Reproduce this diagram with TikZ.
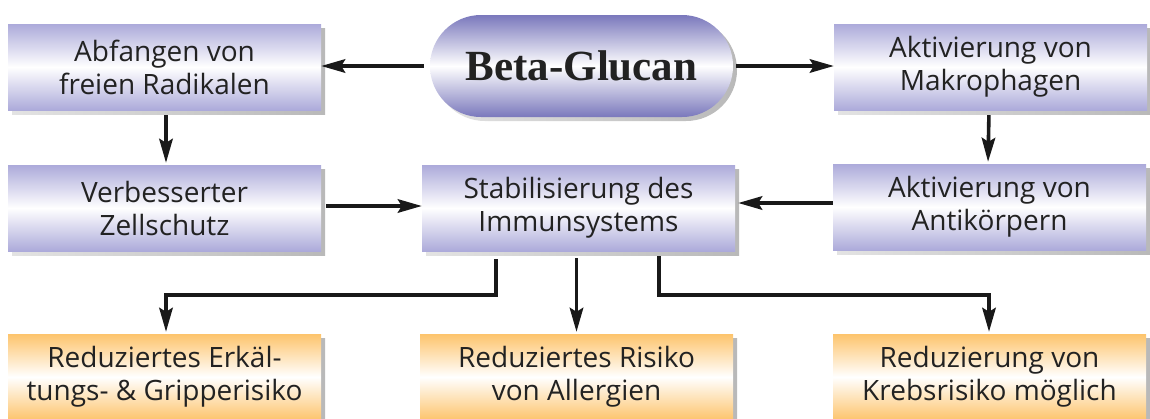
\documentclass[tikz,border=0pt]{standalone}
\usepackage{fontspec}
\setmainfont{Open Sans}
\newfontfamily\titlefont{Liberation Serif}
\usetikzlibrary{arrows.meta,shadows}
\definecolor{boxblue}{RGB}{172,170,218}
\definecolor{pillblue}{RGB}{122,120,188}
\definecolor{boxorange}{RGB}{253,196,108}
\definecolor{txt}{RGB}{34,34,34}
\definecolor{arrcol}{RGB}{25,25,25}
\tikzset{
  shadowed/.style={general shadow={shadow xshift=4pt, shadow yshift=-4pt, left color=gray!22, right color=gray!55}},
  bluebox/.style={shadowed, rectangle, minimum width=313pt, minimum height=86pt, inner sep=0pt,
    top color=boxblue, bottom color=boxblue, middle color=white, align=center,
    font=\fontsize{28}{33}\selectfont, text=txt},
  orangebox/.style={bluebox, top color=boxorange, bottom color=boxorange, middle color=white},
  pill/.style={shadowed, rectangle, rounded corners=51pt, minimum width=303pt, minimum height=102pt,
    inner sep=0pt, top color=pillblue, bottom color=pillblue, middle color=white,
    font=\titlefont\bfseries\fontsize{43}{50}\selectfont, text=txt},
  arr/.style={draw=arrcol, line width=3.6pt, -{Stealth[length=24pt,width=13.5pt,inset=4pt]}}
}
\begin{document}
\begin{tikzpicture}[x=1pt,y=-1pt]
\useasboundingbox (0,0) rectangle (1150,418);
\node[pill] (beta) at (581.5,66) {Beta-Glucan};
\node[bluebox] (abf) at (164.5,67) {Abfangen von\\freien Radikalen};
\node[bluebox] (mak) at (990.5,67) {Aktivierung von\\Makrophagen};
\node[bluebox] (verb) at (164.5,208) {Verbesserter\\Zellschutz};
\node[bluebox] (stab) at (578.5,208) {Stabilisierung des\\Immunsystems};
\node[bluebox] (anti) at (989.5,207) {Aktivierung von\\Antikörpern};
\node[orangebox] (o1) at (164.5,377) {Reduziertes Erkäl-\\tungs- \& Gripperisiko};
\node[orangebox] (o2) at (576.5,377) {Reduziertes Risiko\\von Allergien};
\node[orangebox] (o3) at (989.5,377) {Reduzierung von\\Krebsrisiko möglich};

\draw[arr, shorten <=6pt] (beta.west) -- (beta.west -| abf.east);
\draw[arr, shorten <=3pt] (beta.east) -- (beta.east -| mak.west);
\draw[arr, shorten <=5pt, shorten >=2pt] ([xshift=1.5pt]abf.south) -- ([xshift=1.5pt]verb.north);
\draw[arr, shorten <=5pt, shorten >=2pt] ([xshift=-1.5pt]mak.south) -- ([xshift=-1.5pt]anti.north);
\draw[arr, shorten <=5pt] ([yshift=2pt]verb.east) -- ([yshift=2pt]stab.west);
\draw[arr, shorten >=3pt] ([yshift=4pt]anti.west) -- ([yshift=4pt]anti.west -| stab.east);
\draw[arr, shorten <=8pt, shorten >=2pt] ([xshift=-82.5pt]stab.south) -- ++(0,44) -| ([xshift=1.5pt]o1.north);
\draw[arr, shorten <=7pt, shorten >=2pt] (o2.north |- stab.south) -- (o2.north);
\draw[arr, shorten <=5pt, shorten >=2pt] ([xshift=80.5pt]stab.south) -- ++(0,44) -| ([xshift=-0.5pt]o3.north);
\end{tikzpicture}
\end{document}
